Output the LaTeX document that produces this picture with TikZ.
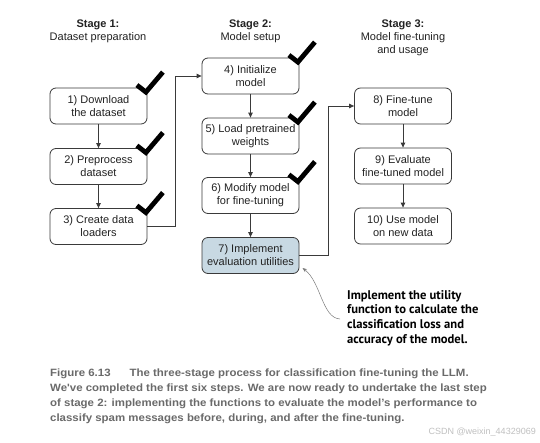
\documentclass[tikz,border=0pt]{standalone}
\usepackage{fontspec}
\setmainfont{Liberation Sans}
\newfontfamily\annfont{PT Sans}
\newfontfamily\capfont[FakeStretch=1.08]{Liberation Sans}
\usetikzlibrary{arrows.meta}
\definecolor{boxline}{HTML}{3A3A3A}
\definecolor{evalfill}{HTML}{C8D9E3}
\definecolor{captiongray}{HTML}{6A6A6A}
\definecolor{wmgray}{HTML}{C0C0C0}
\definecolor{annarrow}{HTML}{7A7A7A}
\definecolor{boxtext}{HTML}{222222}
\begin{document}
\begin{tikzpicture}[x=1pt,y=-1pt,
  stepbox/.style={draw=boxline, line width=0.8pt, rounded corners=6pt,
    minimum width=97pt, minimum height=36pt, align=center, inner sep=1pt,
    font=\fontsize{11}{13}\selectfont, text=boxtext},
  flow/.style={draw=boxline, line width=0.8pt, -{Triangle[length=5pt,width=4.5pt]}},
  header/.style={align=center, inner sep=0pt, anchor=north,
    font=\fontsize{11}{13}\selectfont, text=boxtext},
  pics/check/.style={code={
    \draw[line width=4.8pt, black, line join=miter] (-10.5,-2.5) -- (-1.5,4.5) -- (15.5,-15.5);}},
]
\useasboundingbox (0,0) rectangle (540,442);
\fill[white] (0,0) rectangle (540,442);

% headers
\node[header] (h1) at (98,20) {\textbf{Stage 1:}\\Dataset preparation};
\node[header] (h2) at (250.5,20) {\textbf{Stage 2:}\\Model setup};
\node[header] (h3) at (403,20) {\textbf{Stage 3:}\\Model fine-tuning\\and usage};

% stage 1
\node[stepbox] (b1) at (98.5,106) {1) Download\\the dataset};
\node[stepbox] (b2) at (98.5,166.5) {2) Preprocess\\dataset};
\node[stepbox] (b3) at (98.5,226.5) {3) Create data\\loaders};
% stage 2
\node[stepbox] (b4) at (250.5,76) {4) Initialize\\model};
\node[stepbox] (b5) at (250.5,136) {5) Load pretrained\\weights};
\node[stepbox] (b6) at (250.5,195.5) {6) Modify model\\for fine-tuning};
\node[stepbox, fill=evalfill] (b7) at (250.5,255.5) {7) Implement\\evaluation utilities};
% stage 3
\node[stepbox] (b8) at (403,106) {8) Fine-tune\\model};
\node[stepbox] (b9) at (403,166) {9) Evaluate\\fine-tuned model};
\node[stepbox] (b10) at (403,226) {10) Use model\\on new data};

% connectors
\draw[flow] (b1) -- (b2);
\draw[flow] (b2) -- (b3);
\draw[flow] (b3.east) -- ++(28,0) |- (b4.west);
\draw[flow] (b4) -- (b5);
\draw[flow] (b5) -- (b6);
\draw[flow] (b6) -- (b7);
\draw[flow] (b7.east) -- ++(29,0) |- (b8.west);
\draw[flow] (b8) -- (b9);
\draw[flow] (b9) -- (b10);

% check marks
\foreach \b in {b1,b2,b3,b4,b5,b6} \pic at (\b.north east) {check};

% annotation
\node[anchor=north west, align=left, inner sep=0pt,
  font=\annfont\bfseries\fontsize{12.6}{14.8}\selectfont, text=black] (ann) at (347,290)
  {Implement the utility\\function to calculate the\\classification loss and\\accuracy of the model.};
\coordinate (annstart) at (340,319);
\coordinate (annend) at (302.5,268);
\draw[annarrow, line width=0.5pt, -{Stealth[length=4.5pt,width=3.5pt]}]
  (annstart) .. controls (322,318) and (321,282) .. (annend);

% caption
\node[anchor=north west, align=left, inner sep=0pt,
  font=\capfont\bfseries\fontsize{10.6}{15}\selectfont, text=captiongray] (cap) at (50,368.5)
  {Figure 6.13\hspace{19pt}The three-stage process for classification fine-tuning the LLM.\\
   We've completed the first six steps. We are now ready to undertake the last step\\
   of stage 2: implementing the functions to evaluate the model’s performance to\\
   classify spam messages before, during, and after the fine-tuning.};

% watermark
\node[anchor=base east, inner sep=0pt, font=\fontsize{9}{9}\selectfont, text=wmgray] (wm)
  at (536,434) {CSDN @weixin\_44329069};
\end{tikzpicture}
\end{document}
